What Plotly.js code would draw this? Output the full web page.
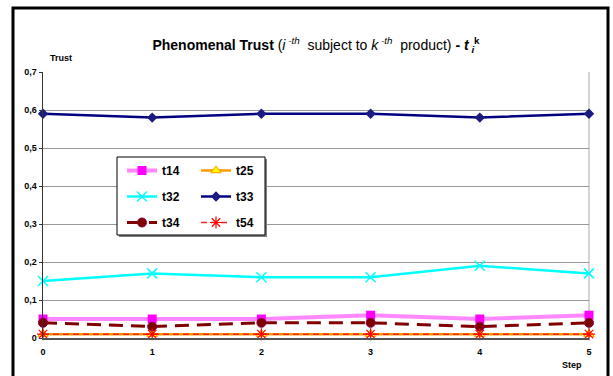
<!DOCTYPE html>
<html>
<head>
<meta charset="utf-8">
<script src="https://cdn.plot.ly/plotly-3.0.1.min.js"></script>
<style>
  html, body { margin: 0; padding: 0; background: #ffffff; }
  #chart { width: 613px; height: 376px; }
</style>
</head>
<body>
<div id="chart"></div>
<script>
// Phenomenal trust of subject i towards product k, over simulation steps
const steps = [0, 1, 2, 3, 4, 5];
const t14 = [0.05, 0.05, 0.05, 0.06, 0.05, 0.06];
const t25 = [0.01, 0.01, 0.01, 0.01, 0.01, 0.01];
const t32 = [0.15, 0.17, 0.16, 0.16, 0.19, 0.17];
const t33 = [0.59, 0.58, 0.59, 0.59, 0.58, 0.59];
const t34 = [0.04, 0.03, 0.04, 0.04, 0.03, 0.04];
const t54 = [0.01, 0.01, 0.01, 0.01, 0.01, 0.01];

const yTickVals = [0, 0.1, 0.2, 0.3, 0.4, 0.5, 0.6, 0.7];
const yTickText = ['0', '0,1', '0,2', '0,3', '0,4', '0,5', '0,6', '0,7'];
const xTickVals = [0, 1, 2, 3, 4, 5];
const xTickText = ['0', '1', '2', '3', '4', '5'];

const W = 613, H = 376;
const M = { l: 43, r: 24, t: 72, b: 38 };
const plotW = W - M.l - M.r, plotH = H - M.t - M.b;
// pixel position -> paper coordinate
const px = x => (x - M.l) / plotW;
const py = y => (H - M.b - y) / plotH;

const FONT = 'Liberation Sans, Arial, sans-serif';

const traces = [
  { name: 't14', y: t14, legend: 'legend',
    line: { color: '#ff88ff', width: 4 },
    marker: { symbol: 'square', size: 9, color: '#ff00ff' } },
  { name: 't25', y: t25, legend: 'legend2',
    line: { color: '#ff9900', width: 2.5 },
    marker: { symbol: 'triangle-up', size: 9, color: '#ffff00', line: { color: '#ff9900', width: 1 } } },
  { name: 't32', y: t32, legend: 'legend',
    line: { color: '#00ffff', width: 2.5 },
    marker: { symbol: 'x-thin', size: 10, color: '#00ffff', line: { color: '#00ffff', width: 1.5 } } },
  { name: 't33', y: t33, legend: 'legend2',
    line: { color: '#000080', width: 2.5 },
    marker: { symbol: 'diamond', size: 8, color: '#1a1a80' } },
  { name: 't34', y: t34, legend: 'legend',
    line: { color: '#800000', width: 3, dash: '14px,8px' },
    marker: { symbol: 'circle', size: 9, color: '#800000', line: { color: '#800040', width: 1 } } },
  { name: 't54', y: t54, legend: 'legend2',
    line: { color: '#ff2020', width: 1.5, dash: '6px,4px' },
    marker: { symbol: 'asterisk-open', size: 10, color: '#ff0000', line: { color: '#ff0000', width: 1.2 } } }
].map(t => Object.assign({
  type: 'scatter', mode: 'lines+markers', x: steps, legendgroup: t.name, cliponaxis: false
}, t));

const legendCommon = {
  bgcolor: 'rgba(0,0,0,0)', borderwidth: 0,
  font: { family: FONT, size: 12, color: '#000', weight: 700 },
  traceorder: 'grouped', tracegroupgap: 7,
  xanchor: 'left', yanchor: 'top'
};

const layout = {
  width: W, height: H,
  margin: M,
  paper_bgcolor: '#ffffff',
  plot_bgcolor: '#ffffff',
  showlegend: true,
  title: {
    text: '<b>Phenomenal Trust</b> (<i>i</i><sup><i> -th</i></sup>  subject to <i>k</i><sup><i> -th</i></sup>  product) <b>- <i>t</i></b><sub><b><i> i</i></b></sub><sup><b>k</b></sup>',
    x: 0.5, xref: 'paper', xanchor: 'center',
    y: 1 - 45 / H, yref: 'container', yanchor: 'middle',
    font: { family: FONT, size: 14, color: '#000' }
  },
  xaxis: {
    range: [0, 5], tickvals: xTickVals, ticktext: xTickText,
    showgrid: false, zeroline: false,
    showline: true, linecolor: '#555555', linewidth: 2,
    ticks: '', ticklabelstandoff: 4,
    tickfont: { family: FONT, size: 9, color: '#000', weight: 700 }
  },
  yaxis: {
    range: [0, 0.7], tickvals: yTickVals, ticktext: yTickText,
    showgrid: true, gridcolor: '#999999', gridwidth: 1, zeroline: false,
    showline: true, linecolor: '#333333', linewidth: 1.5,
    ticks: 'outside', ticklen: 3, tickcolor: '#333333',
    tickfont: { family: FONT, size: 9, color: '#000', weight: 700 }
  },
  legend: Object.assign({ x: px(122), y: py(156) }, legendCommon),
  legend2: Object.assign({ x: px(196), y: py(156) }, legendCommon),
  shapes: [
    // right edge of plot area
    { type: 'line', xref: 'paper', yref: 'paper', x0: 1, x1: 1, y0: 0, y1: 1,
      line: { color: '#aaaaaa', width: 1 }, layer: 'below' },
    // legend box shadow and box
    { type: 'rect', xref: 'paper', yref: 'paper', x0: px(119), x1: px(267), y0: py(159), y1: py(237),
      fillcolor: '#808080', line: { width: 0 }, layer: 'above' },
    { type: 'rect', xref: 'paper', yref: 'paper', x0: px(117), x1: px(265), y0: py(157), y1: py(235),
      fillcolor: '#ffffff', line: { color: '#000000', width: 1 }, layer: 'above' },
    // outer chart frame
    { type: 'rect', xref: 'paper', yref: 'paper', x0: px(13), x1: px(608), y0: py(8), y1: py(390),
      fillcolor: 'rgba(0,0,0,0)', line: { color: '#000000', width: 3 }, layer: 'above' }
  ],
  annotations: [
    { text: '<b>Trust</b>', xref: 'paper', yref: 'paper', x: px(60.5), y: py(58),
      xanchor: 'center', yanchor: 'middle',
      showarrow: false, font: { family: FONT, size: 9, color: '#000' } },
    { text: '<b>Step</b>', xref: 'paper', yref: 'paper', x: px(571.5), y: py(365),
      xanchor: 'center', yanchor: 'middle',
      showarrow: false, font: { family: FONT, size: 9, color: '#000' } }
  ]
};

Plotly.newPlot('chart', traces, layout, { displayModeBar: false, staticPlot: true });
</script>
</body>
</html>
